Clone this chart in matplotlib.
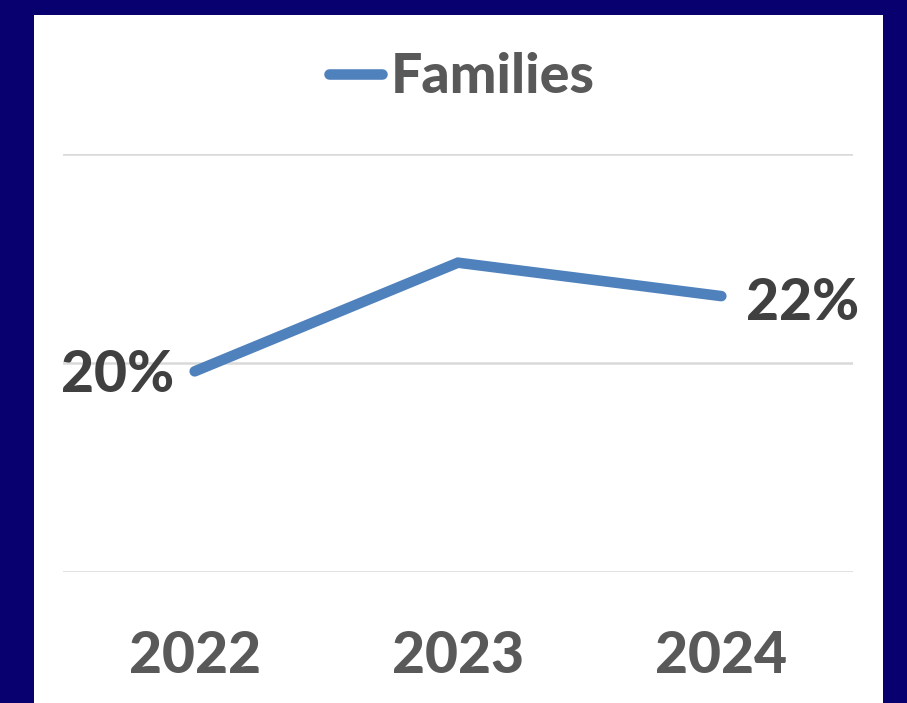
import matplotlib.pyplot as plt
from matplotlib.patches import Rectangle

YEARS = ["2022", "2023", "2024"]
FAMILIES = [0.198, 0.224, 0.216]
LABELLED = [True, False, True]
GRID_VALUES = [0.15, 0.20, 0.25]

NAVY = "#07006E"
LINE_BLUE = "#4F81BD"
TEXT_GREY = "#595959"
LABEL_DARK = "#404040"
W, H = 907, 703

plt.rcParams["font.family"] = ["Lato", "DejaVu Sans"]

fig = plt.figure(figsize=(W / 100, H / 100), dpi=100, facecolor=NAVY)
fig.patches.append(Rectangle((34 / W, 0), (883 - 34) / W, (H - 15) / H,
                             transform=fig.transFigure, facecolor="white",
                             edgecolor="none", zorder=-5))

ax = fig.add_axes([63 / W, (H - 572) / H, (853 - 63) / W, (572 - 154) / H])
ax.set_facecolor("none")
ax.set_zorder(2)

x = list(range(len(YEARS)))
ax.plot(x, FAMILIES, color=LINE_BLUE, lw=7.6, solid_capstyle="round",
        solid_joinstyle="miter", label="Families", zorder=3)

for v in GRID_VALUES:
    ax.axhline(v, color="#D9D9D9", lw=1.8, zorder=1)

for xi, val, show in zip(x, FAMILIES, LABELLED):
    if not show:
        continue
    if xi == 0:
        ax.annotate(f"{val:.0%}", (xi, val), xytext=(-15, -3), textcoords="offset points",
                    ha="right", va="center", fontsize=41, fontweight="black", color=LABEL_DARK)
    else:
        ax.annotate(f"{val:.0%}", (xi, val), xytext=(18, -5), textcoords="offset points",
                    ha="left", va="center", fontsize=41, fontweight="black", color=LABEL_DARK)

ax.set_xlim(-0.5, len(YEARS) - 0.5)
ax.set_ylim(0.15, 0.25)
ax.set_xticks(x, YEARS)
ax.set_yticks([])
ax.tick_params(axis="x", length=0, pad=42, labelsize=41, labelcolor=TEXT_GREY)
for lbl in ax.get_xticklabels():
    lbl.set_fontweight("black")
for s in ax.spines.values():
    s.set_visible(False)

leg = fig.legend(loc="center", bbox_to_anchor=(462 / W, 1 - 77 / H), frameon=False,
                 handlelength=0.95, handletextpad=0.15,
                 labelcolor=TEXT_GREY, prop={"weight": "black", "size": 40})
for line in leg.get_lines():
    line.set_solid_capstyle("round")

fig.savefig("out.png", dpi=100, facecolor=NAVY)
